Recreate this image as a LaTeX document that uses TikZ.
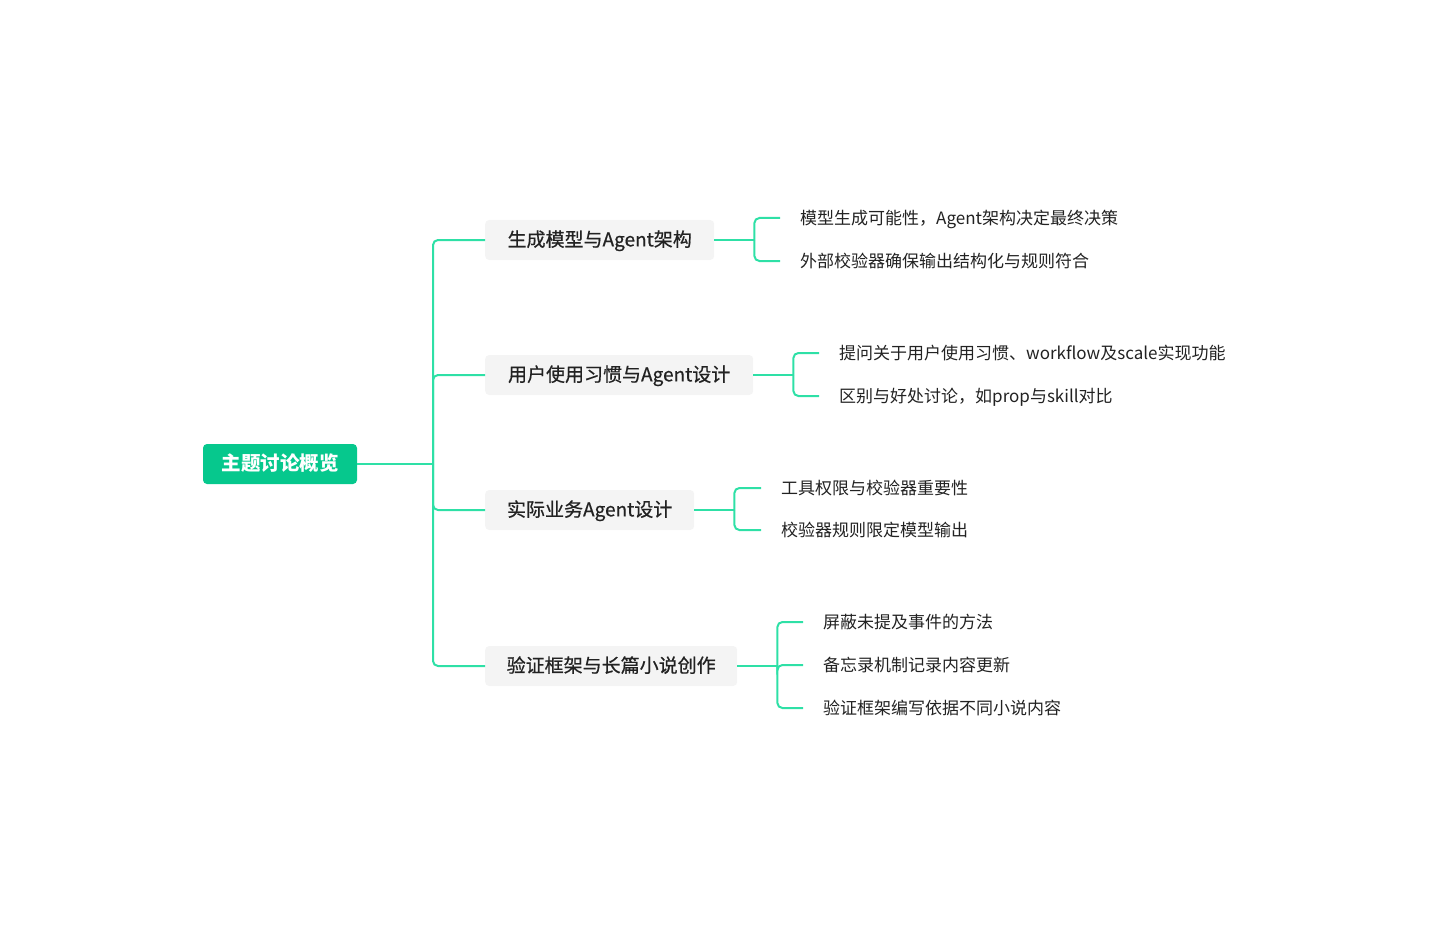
\documentclass[tikz,border=0pt]{standalone}
\usepackage{fontspec}
\setmainfont{Noto Sans CJK SC}
\newfontfamily\medfont{Noto Sans CJK SC}[FakeBold=0.6]
\definecolor{rootgreen}{RGB}{6,200,141}
\definecolor{conngreen}{RGB}{46,224,166}
\definecolor{boxgray}{RGB}{244,244,244}
\definecolor{txt}{RGB}{34,34,34}
\tikzset{
  rootbox/.style={fill=rootgreen, rounded corners=4pt, text=white, font=\fontsize{19.5}{19.5}\selectfont\bfseries, minimum height=40pt, minimum width=154pt, inner xsep=0pt, inner ysep=0pt, text height=1.28em, text depth=0em},
  branchbox/.style={fill=boxgray, rounded corners=4pt, text=txt, font=\fontsize{19}{19}\selectfont\medfont, minimum height=40pt, inner xsep=0pt, inner ysep=0pt, anchor=west, text height=1.28em, text depth=0em},
  leafbox/.style={anchor=west, text=txt, font=\fontsize{17}{17}\selectfont, inner xsep=20pt, inner ysep=0pt, text height=1.28em, text depth=0em},
  conn/.style={draw=conngreen, line width=2pt, rounded corners=5pt}
}
\begin{document}
\begin{tikzpicture}[x=1pt,y=-1pt]
\useasboundingbox (0,0) rectangle (1448,928);
\node[rootbox] (root) at (280,464) {主题讨论概览};
\node[branchbox, minimum width=229pt] (b1) at (485,240) {生成模型与Agent架构};
\node[branchbox, minimum width=268pt] (b2) at (485,375) {用户使用习惯与Agent设计};
\node[branchbox, minimum width=209pt] (b3) at (485,510) {实际业务Agent设计};
\node[branchbox, minimum width=252pt] (b4) at (485,666) {验证框架与长篇小说创作};
\coordinate (t) at (433,464);
\draw[conn] (root.east) -- (t);
\draw[conn] (t) |- (b1.west);
\draw[conn] (t) |- (b2.west);
\draw[conn] (t) |- (b3.west);
\draw[conn] (t) |- (b4.west);
% leaves
\node[leafbox] (l11) at (780,218) {模型生成可能性，Agent架构决定最终决策};
\node[leafbox] (l12) at (780,261) {外部校验器确保输出结构化与规则符合};
\node[leafbox] (l21) at (819,353) {提问关于用户使用习惯、workflow及scale实现功能};
\node[leafbox] (l22) at (819,396) {区别与好处讨论，如prop与skill对比};
\node[leafbox] (l31) at (761,488) {工具权限与校验器重要性};
\node[leafbox] (l32) at (761,530) {校验器规则限定模型输出};
\node[leafbox] (l41) at (803,622) {屏蔽未提及事件的方法};
\node[leafbox] (l42) at (803,665) {备忘录机制记录内容更新};
\node[leafbox] (l43) at (803,708) {验证框架编写依据不同小说内容};
\coordinate (j1) at ([xshift=40pt]b1.east);
\coordinate (j2) at ([xshift=40pt]b2.east);
\coordinate (j3) at ([xshift=40pt]b3.east);
\coordinate (j4) at ([xshift=40pt]b4.east);
\draw[conn] (b1.east) -- (j1);
\draw[conn] (j1) |- (l11.west);
\draw[conn] (j1) |- (l12.west);
\draw[conn] (b2.east) -- (j2);
\draw[conn] (j2) |- (l21.west);
\draw[conn] (j2) |- (l22.west);
\draw[conn] (b3.east) -- (j3);
\draw[conn] (j3) |- (l31.west);
\draw[conn] (j3) |- (l32.west);
\draw[conn] (b4.east) -- (j4);
\draw[conn] (j4) |- (l41.west);
\draw[conn] (j4) |- (l42.west);
\draw[conn] (j4) |- (l43.west);
\end{tikzpicture}
\end{document}
